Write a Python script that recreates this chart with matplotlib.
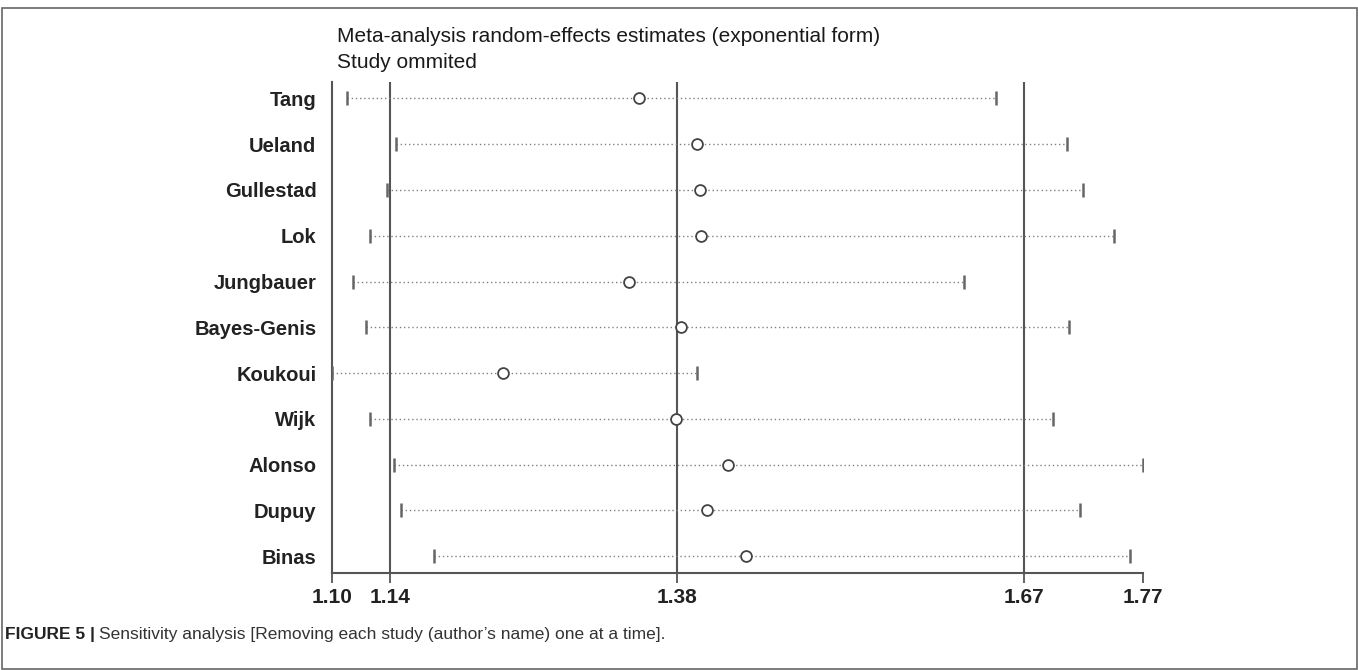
import matplotlib
matplotlib.use("Agg")
import matplotlib.pyplot as plt
import numpy as np

plt.rcParams['font.family'] = ['Liberation Sans', 'DejaVu Sans']

# study omitted in each row, pooled estimate (exp form) and its 95% CI
studies = ["Tang", "Ueland", "Gullestad", "Lok", "Jungbauer", "Bayes-Genis",
           "Koukoui", "Wijk", "Alonso", "Dupuy", "Binas"]
estimate = [1.348, 1.397, 1.399, 1.400, 1.340, 1.383, 1.234, 1.379, 1.423, 1.405, 1.438]
lower = [1.104, 1.145, 1.137, 1.123, 1.109, 1.120, 1.091, 1.123, 1.143, 1.149, 1.177]
upper = [1.647, 1.706, 1.720, 1.746, 1.620, 1.708, 1.397, 1.695, 1.770, 1.717, 1.759]

# overall estimate with all studies: lower CI, estimate, upper CI
overall = [1.14, 1.38, 1.67]
tick_labels = ["1.10", "1.14", "1.38", "1.67", "1.77"]

W, H = 1358, 670
fig = plt.figure(figsize=(W / 100, H / 100), dpi=100)
ax = fig.add_axes([331.7 / W, 1 - 573 / H, (1143 - 331.7) / W, (573 - 82) / H])

y = np.arange(1, len(studies) + 1)

for v in overall:
    ax.axvline(v, color="#555555", lw=1.5, zorder=1)

ax.hlines(y, lower, upper, colors="#808080", linestyles=(0, (1, 2)), lw=1.0, zorder=2)
ax.plot(lower, y, ls="none", marker="|", ms=10, mew=1.8, color="#666666", zorder=3)
ax.plot(upper, y, ls="none", marker="|", ms=10, mew=1.8, color="#666666", zorder=3)
ax.plot(estimate, y, ls="none", marker="o", ms=7.8, mfc="white", mec="#444444",
        mew=1.3, zorder=4)

ax.set_xlim(min(lower), max(upper))
ax.set_ylim(len(studies) + 0.37, 0.64)

for s in ["top", "right"]:
    ax.spines[s].set_visible(False)
for s in ["left", "bottom"]:
    ax.spines[s].set_color("#555555")
    ax.spines[s].set_linewidth(1.5)

ax.set_yticks(y)
ax.set_yticklabels(studies, fontsize=14.5, fontweight="bold", color="#222222")
ax.tick_params(axis="y", length=0, pad=11)

ticks = [min(lower)] + overall + [max(upper)]
ax.set_xticks(ticks)
ax.set_xticklabels(tick_labels, fontsize=15, fontweight="bold", color="#222222")
ax.tick_params(axis="x", length=7, width=1.3, color="#555555", pad=4)

fig.text(336.7 / W, 1 - 42 / H, "Meta-analysis random-effects estimates (exponential form)",
         fontsize=15, color="#1a1a1a", va="baseline")
fig.text(336.7 / W, 1 - 68 / H, "Study ommited", fontsize=15, color="#1a1a1a", va="baseline")

# outer frame of the figure panel
fig.add_artist(plt.Rectangle((1.5 / W, 1.5 / H), (W - 3) / W, (H - 9.5) / H,
                             transform=fig.transFigure, fill=False, ec="#666666", lw=1.2))

cap_font = ['Liberation Sans Narrow', 'Liberation Sans', 'DejaVu Sans']
t1 = fig.text(5 / W, 1 - 639 / H, "FIGURE 5 |", fontsize=12.5, fontweight="bold",
              color="#222222", va="baseline", family=cap_font)
renderer = fig.canvas.get_renderer()
bb = t1.get_window_extent(renderer)
fig.text((bb.x1 + 4) / W, 1 - 639 / H,
         "Sensitivity analysis [Removing each study (author\u2019s name) one at a time].",
         fontsize=12.5, color="#333333", va="baseline", family=cap_font)

fig.savefig("out.png", dpi=100)
